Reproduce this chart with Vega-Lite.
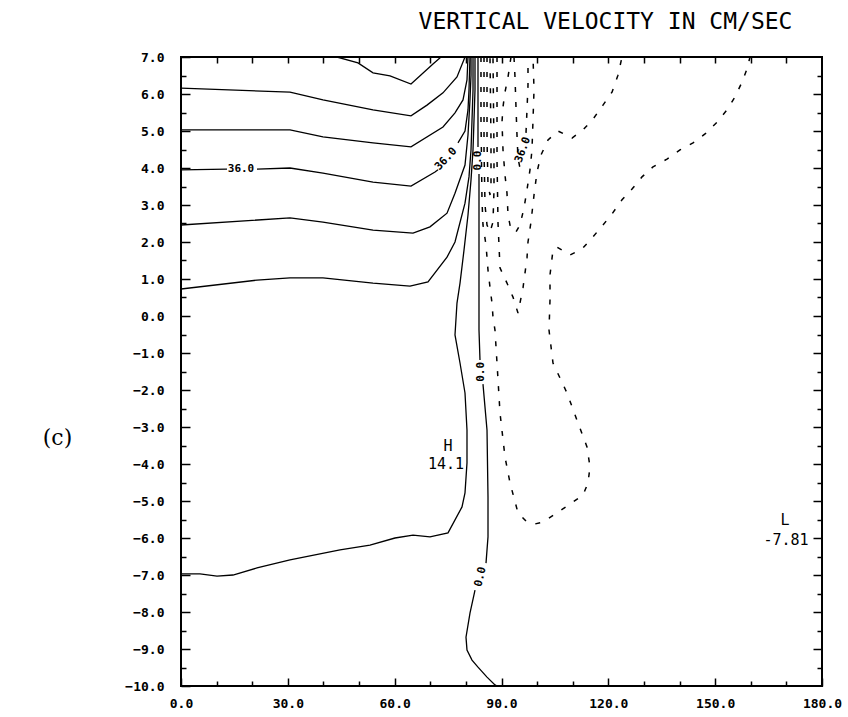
{
  "$schema": "https://vega.github.io/schema/vega-lite/v6.json",
  "width": 641,
  "height": 629,
  "autosize": {"type": "none"},
  "padding": {"left": 181, "top": 57, "right": 26, "bottom": 31},
  "background": "white",
  "title": {"text": "VERTICAL VELOCITY IN CM/SEC", "font": "DejaVu Sans Mono", "fontSize": 23, "fontWeight": "normal", "color": "black", "anchor": "middle", "dx": 104, "offset": 17},
  "config": {
    "view": {"stroke": "black", "strokeWidth": 2},
    "axis": {"domain": false, "grid": false, "tickColor": "black", "tickWidth": 1.5, "labelFont": "DejaVu Sans Mono", "labelFontSize": 13, "labelFontWeight": "bold", "labelColor": "black", "labelFlush": false}
  },
  "datasets": {
    "solid": [
      {"c":"S1","i":0,"x":43.81,"y":7.0},{"c":"S1","i":1,"x":49.70,"y":6.84},{"c":"S1","i":2,"x":53.92,"y":6.57},{"c":"S1","i":3,"x":58.69,"y":6.49},{"c":"S1","i":4,"x":64.59,"y":6.27},{"c":"S1","i":5,"x":70.76,"y":6.81},{"c":"S1","i":6,"x":73.01,"y":7.0},
      {"c":"S2","i":0,"x":0,"y":6.16},{"c":"S2","i":1,"x":30.61,"y":6.05},{"c":"S2","i":2,"x":39.87,"y":5.84},{"c":"S2","i":3,"x":53.92,"y":5.57},{"c":"S2","i":4,"x":64.59,"y":5.41},{"c":"S2","i":5,"x":69.08,"y":5.70},{"c":"S2","i":6,"x":73.57,"y":6.03},{"c":"S2","i":7,"x":77.50,"y":6.46},{"c":"S2","i":8,"x":79.75,"y":7.0},
      {"c":"S3","i":0,"x":0,"y":5.03},{"c":"S3","i":1,"x":30.61,"y":5.03},{"c":"S3","i":2,"x":39.87,"y":4.84},{"c":"S3","i":3,"x":53.92,"y":4.68},{"c":"S3","i":4,"x":64.59,"y":4.57},{"c":"S3","i":5,"x":73.57,"y":5.11},{"c":"S3","i":6,"x":76.94,"y":5.49},{"c":"S3","i":7,"x":79.19,"y":5.84},{"c":"S3","i":8,"x":80.31,"y":6.38},{"c":"S3","i":9,"x":80.59,"y":7.0},
      {"c":"S4a","i":0,"x":0,"y":3.95},{"c":"S4a","i":1,"x":12.92,"y":3.97},
      {"c":"S4b","i":0,"x":21.34,"y":3.97},{"c":"S4b","i":1,"x":30.61,"y":4.0},{"c":"S4b","i":2,"x":39.87,"y":3.86},{"c":"S4b","i":3,"x":53.92,"y":3.62},{"c":"S4b","i":4,"x":64.59,"y":3.51},{"c":"S4b","i":5,"x":71.33,"y":3.89},{"c":"S4b","i":6,"x":72.17,"y":3.95},
      {"c":"S4c","i":0,"x":77.78,"y":4.68},{"c":"S4c","i":1,"x":79.75,"y":5.0},{"c":"S4c","i":2,"x":80.59,"y":5.57},{"c":"S4c","i":3,"x":80.87,"y":6.11},{"c":"S4c","i":4,"x":81.15,"y":7.0},
      {"c":"S5","i":0,"x":0,"y":2.46},{"c":"S5","i":1,"x":30.61,"y":2.65},{"c":"S5","i":2,"x":39.87,"y":2.54},{"c":"S5","i":3,"x":53.92,"y":2.32},{"c":"S5","i":4,"x":65.15,"y":2.24},{"c":"S5","i":5,"x":69.92,"y":2.41},{"c":"S5","i":6,"x":74.70,"y":2.78},{"c":"S5","i":7,"x":76.94,"y":3.32},{"c":"S5","i":8,"x":79.75,"y":4.08},{"c":"S5","i":9,"x":80.59,"y":4.89},{"c":"S5","i":10,"x":81.15,"y":5.84},{"c":"S5","i":11,"x":81.44,"y":6.51},{"c":"S5","i":12,"x":81.44,"y":7.0},
      {"c":"S6","i":0,"x":0,"y":0.73},{"c":"S6","i":1,"x":21.34,"y":0.97},{"c":"S6","i":2,"x":30.61,"y":1.03},{"c":"S6","i":3,"x":39.87,"y":1.03},{"c":"S6","i":4,"x":53.92,"y":0.89},{"c":"S6","i":5,"x":64.31,"y":0.81},{"c":"S6","i":6,"x":69.36,"y":0.92},{"c":"S6","i":7,"x":74.70,"y":1.59},{"c":"S6","i":8,"x":76.94,"y":2.0},{"c":"S6","i":9,"x":79.75,"y":3.05},{"c":"S6","i":10,"x":80.87,"y":3.76},{"c":"S6","i":11,"x":81.44,"y":4.49},{"c":"S6","i":12,"x":81.72,"y":5.30},{"c":"S6","i":13,"x":82.0,"y":6.11},{"c":"S6","i":14,"x":82.0,"y":7.0},
      {"c":"S7","i":0,"x":0,"y":-6.97},{"c":"S7","i":1,"x":5.34,"y":-6.97},{"c":"S7","i":2,"x":10.11,"y":-7.03},{"c":"S7","i":3,"x":14.60,"y":-7.0},{"c":"S7","i":4,"x":21.34,"y":-6.81},{"c":"S7","i":5,"x":30.61,"y":-6.59},{"c":"S7","i":6,"x":44.65,"y":-6.32},{"c":"S7","i":7,"x":53.07,"y":-6.19},{"c":"S7","i":8,"x":60.09,"y":-6.0},{"c":"S7","i":9,"x":65.15,"y":-5.92},{"c":"S7","i":10,"x":69.92,"y":-5.97},{"c":"S7","i":11,"x":74.98,"y":-5.86},{"c":"S7","i":12,"x":78.91,"y":-5.16},{"c":"S7","i":13,"x":79.75,"y":-4.78},{"c":"S7","i":14,"x":80.31,"y":-3.97},{"c":"S7","i":15,"x":80.31,"y":-3.08},{"c":"S7","i":16,"x":79.75,"y":-2.08},{"c":"S7","i":17,"x":78.35,"y":-1.27},{"c":"S7","i":18,"x":76.94,"y":-0.51},{"c":"S7","i":19,"x":77.50,"y":0.35},{"c":"S7","i":20,"x":78.35,"y":0.89},{"c":"S7","i":21,"x":79.47,"y":1.78},{"c":"S7","i":22,"x":80.59,"y":2.73},{"c":"S7","i":23,"x":81.44,"y":3.68},{"c":"S7","i":24,"x":82.0,"y":4.49},{"c":"S7","i":25,"x":82.28,"y":5.30},{"c":"S7","i":26,"x":82.56,"y":6.11},{"c":"S7","i":27,"x":82.56,"y":7.0},
      {"c":"Z1","i":0,"x":83.40,"y":7.0},{"c":"Z1","i":1,"x":83.40,"y":5.84},{"c":"Z1","i":2,"x":83.40,"y":4.57},
      {"c":"Z2","i":0,"x":83.68,"y":3.84},{"c":"Z2","i":1,"x":83.68,"y":1.78},{"c":"Z2","i":2,"x":83.68,"y":-0.38},{"c":"Z2","i":3,"x":83.96,"y":-1.19},
      {"c":"Z3","i":0,"x":84.80,"y":-1.84},{"c":"Z3","i":1,"x":85.93,"y":-3.08},{"c":"Z3","i":2,"x":86.21,"y":-4.89},{"c":"Z3","i":3,"x":86.21,"y":-5.97},{"c":"Z3","i":4,"x":85.65,"y":-6.68},
      {"c":"Z4","i":0,"x":82.56,"y":-7.41},{"c":"Z4","i":1,"x":81.15,"y":-8.03},{"c":"Z4","i":2,"x":80.03,"y":-8.68},{"c":"Z4","i":3,"x":80.31,"y":-9.03},{"c":"Z4","i":4,"x":81.72,"y":-9.30},{"c":"Z4","i":5,"x":83.40,"y":-9.49},{"c":"Z4","i":6,"x":85.93,"y":-9.76},{"c":"Z4","i":7,"x":88.17,"y":-9.97},{"c":"Z4","i":8,"x":88.74,"y":-10.0}
    ],
    "dashed": [
      {"c":"N1","i":0,"x":84.24,"y":7.0},{"c":"N1","i":1,"x":84.24,"y":5.30},{"c":"N1","i":2,"x":84.52,"y":3.14},{"c":"N1","i":3,"x":84.80,"y":2.46},{"c":"N1","i":4,"x":85.65,"y":1.92},{"c":"N1","i":5,"x":86.21,"y":1.24},{"c":"N1","i":6,"x":86.77,"y":0.78},{"c":"N1","i":7,"x":87.33,"y":0.35},{"c":"N1","i":8,"x":87.61,"y":-0.03},{"c":"N1","i":9,"x":88.17,"y":-0.38},{"c":"N1","i":10,"x":88.74,"y":-1.27},{"c":"N1","i":11,"x":89.58,"y":-2.62},{"c":"N1","i":12,"x":90.98,"y":-3.81},{"c":"N1","i":13,"x":92.39,"y":-4.51},{"c":"N1","i":14,"x":94.63,"y":-5.32},{"c":"N1","i":15,"x":97.16,"y":-5.57},{"c":"N1","i":16,"x":99.41,"y":-5.62},{"c":"N1","i":17,"x":101.65,"y":-5.57},{"c":"N1","i":18,"x":105.58,"y":-5.32},{"c":"N1","i":19,"x":112.89,"y":-4.84},{"c":"N1","i":20,"x":114.29,"y":-4.51},{"c":"N1","i":21,"x":114.85,"y":-4.08},{"c":"N1","i":22,"x":114.01,"y":-3.54},{"c":"N1","i":23,"x":111.48,"y":-2.89},{"c":"N1","i":24,"x":108.39,"y":-2.08},{"c":"N1","i":25,"x":104.46,"y":-1.27},{"c":"N1","i":26,"x":103.34,"y":-0.38},{"c":"N1","i":27,"x":103.62,"y":0.43},{"c":"N1","i":28,"x":103.62,"y":1.11},{"c":"N1","i":29,"x":104.46,"y":1.78},{"c":"N1","i":30,"x":105.58,"y":1.86},{"c":"N1","i":31,"x":109.24,"y":1.65},{"c":"N1","i":32,"x":112.61,"y":1.81},{"c":"N1","i":33,"x":115.69,"y":2.14},{"c":"N1","i":34,"x":118.50,"y":2.46},{"c":"N1","i":35,"x":121.03,"y":2.76},{"c":"N1","i":36,"x":123.84,"y":3.14},{"c":"N1","i":37,"x":126.65,"y":3.43},{"c":"N1","i":38,"x":129.46,"y":3.76},{"c":"N1","i":39,"x":132.54,"y":4.03},{"c":"N1","i":40,"x":136.47,"y":4.24},{"c":"N1","i":41,"x":140.12,"y":4.49},{"c":"N1","i":42,"x":143.78,"y":4.68},{"c":"N1","i":43,"x":147.15,"y":4.92},{"c":"N1","i":44,"x":150.52,"y":5.24},{"c":"N1","i":45,"x":153.32,"y":5.57},{"c":"N1","i":46,"x":155.57,"y":5.92},{"c":"N1","i":47,"x":157.54,"y":6.32},{"c":"N1","i":48,"x":158.94,"y":6.68},{"c":"N1","i":49,"x":159.78,"y":7.0},
      {"c":"N2","i":0,"x":88.74,"y":7.0},{"c":"N2","i":1,"x":88.74,"y":4.22},{"c":"N2","i":2,"x":89.02,"y":2.51},{"c":"N2","i":3,"x":89.58,"y":1.30},{"c":"N2","i":4,"x":91.54,"y":0.89},{"c":"N2","i":5,"x":93.23,"y":0.51},{"c":"N2","i":6,"x":94.63,"y":0.08},{"c":"N2","i":7,"x":96.04,"y":0.76},{"c":"N2","i":8,"x":97.16,"y":1.57},{"c":"N2","i":9,"x":97.44,"y":2.0},{"c":"N2","i":10,"x":98.28,"y":2.54},{"c":"N2","i":11,"x":99.13,"y":3.27},{"c":"N2","i":12,"x":99.97,"y":3.89},{"c":"N2","i":13,"x":101.09,"y":4.35},{"c":"N2","i":14,"x":103.06,"y":4.76},{"c":"N2","i":15,"x":105.87,"y":5.0},{"c":"N2","i":16,"x":109.80,"y":4.81},{"c":"N2","i":17,"x":112.89,"y":5.03},{"c":"N2","i":18,"x":115.69,"y":5.32},{"c":"N2","i":19,"x":118.50,"y":5.70},{"c":"N2","i":20,"x":121.03,"y":6.05},{"c":"N2","i":21,"x":122.71,"y":6.51},{"c":"N2","i":22,"x":123.84,"y":7.0},
      {"c":"Ua","i":0,"x":85.09,"y":7.0},{"c":"Ua","i":1,"x":85.09,"y":4.49},{"c":"Ua","i":2,"x":85.37,"y":3.0},{"c":"Ua","i":3,"x":85.93,"y":2.46},{"c":"Ua","i":4,"x":86.77,"y":2.27},{"c":"Ua","i":5,"x":87.61,"y":2.54},{"c":"Ua","i":6,"x":87.89,"y":3.41},{"c":"Ua","i":7,"x":87.89,"y":4.49},{"c":"Ua","i":8,"x":87.61,"y":7.0},
      {"c":"Ub","i":0,"x":85.93,"y":7.0},{"c":"Ub","i":1,"x":85.93,"y":4.76},{"c":"Ub","i":2,"x":86.21,"y":3.54},{"c":"Ub","i":3,"x":86.77,"y":3.27},{"c":"Ub","i":4,"x":87.05,"y":3.54},{"c":"Ub","i":5,"x":87.05,"y":4.76},{"c":"Ub","i":6,"x":86.77,"y":7.0},
      {"c":"Uc","i":0,"x":92.67,"y":7.0},{"c":"Uc","i":1,"x":91.83,"y":6.46},{"c":"Uc","i":2,"x":90.98,"y":6.05},{"c":"Uc","i":3,"x":90.42,"y":5.65},{"c":"Uc","i":4,"x":90.14,"y":5.24},{"c":"Uc","i":5,"x":90.42,"y":4.49},{"c":"Uc","i":6,"x":90.98,"y":3.81},{"c":"Uc","i":7,"x":91.54,"y":3.32},{"c":"Uc","i":8,"x":91.83,"y":2.73},{"c":"Uc","i":9,"x":92.67,"y":2.32},{"c":"Uc","i":10,"x":94.07,"y":2.27},{"c":"Uc","i":11,"x":95.19,"y":2.46},{"c":"Uc","i":12,"x":96.32,"y":2.92},{"c":"Uc","i":13,"x":97.16,"y":3.41},{"c":"Uc","i":14,"x":98.0,"y":3.95},{"c":"Uc","i":15,"x":98.56,"y":4.49},{"c":"Uc","i":16,"x":98.85,"y":5.30},{"c":"Uc","i":17,"x":99.13,"y":6.11},{"c":"Uc","i":18,"x":98.85,"y":7.0},
      {"c":"Ud1","i":0,"x":93.51,"y":7.0},{"c":"Ud1","i":1,"x":93.79,"y":6.46},{"c":"Ud1","i":2,"x":94.07,"y":5.65},{"c":"Ud1","i":3,"x":94.35,"y":4.89},{"c":"Ud1","i":4,"x":94.63,"y":4.27},{"c":"Ud1","i":5,"x":95.19,"y":4.0},
      {"c":"Ud2","i":0,"x":96.88,"y":4.95},{"c":"Ud2","i":1,"x":97.16,"y":5.57},{"c":"Ud2","i":2,"x":97.44,"y":6.24},{"c":"Ud2","i":3,"x":97.44,"y":7.0}
    ],
    "labels": [
      {"x":16.85,"y":3.96,"text":"36.0","kind":"h"},
      {"x":74.42,"y":4.24,"text":"36.0","kind":"a47"},
      {"x":96.04,"y":4.49,"text":"36.0","kind":"a70"},
      {"x":83.4,"y":4.2,"text":"0.0","kind":"v"},
      {"x":84.38,"y":-1.51,"text":"0.0","kind":"v"},
      {"x":84.1,"y":-7.05,"text":"0.0","kind":"v2"},
      {"x":75.0,"y":-3.5,"text":"H","kind":"hl"},
      {"x":74.4,"y":-4.0,"text":"14.1","kind":"hl"},
      {"x":169.6,"y":-5.5,"text":"L","kind":"hl"},
      {"x":169.9,"y":-6.05,"text":"-7.81","kind":"hl"}
    ]
  },
  "resolve": {"axis": {"x": "independent", "y": "independent"}},
  "layer": [
    {
      "data": {"name": "solid"},
      "mark": {"type": "line", "color": "black", "strokeWidth": 1.3, "clip": true},
      "encoding": {
        "x": {"field": "x", "type": "quantitative", "scale": {"domain": [0, 180], "nice": false, "zero": false},
              "axis": {"orient": "bottom", "values": [0, 30, 60, 90, 120, 150, 180], "format": ".1f", "tickSize": -8, "labelPadding": 19, "title": null}},
        "y": {"field": "y", "type": "quantitative", "scale": {"domain": [-10, 7], "nice": false, "zero": false},
              "axis": {"orient": "left", "values": [-10, -9, -8, -7, -6, -5, -4, -3, -2, -1, 0, 1, 2, 3, 4, 5, 6, 7], "format": ".1f", "tickSize": -9, "labelPadding": 26,
                       "title": "(c)", "titleAngle": 0, "titleFont": "DejaVu Serif", "titleFontSize": 22, "titleFontWeight": "normal", "titleColor": "black", "titleX": -124, "titleY": 380, "titleAlign": "center", "titleBaseline": "middle"}},
        "detail": {"field": "c"},
        "order": {"field": "i"}
      }
    },
    {
      "data": {"name": "dashed"},
      "mark": {"type": "line", "color": "black", "strokeWidth": 1.5, "strokeDash": [5, 10], "clip": true},
      "encoding": {
        "x": {"field": "x", "type": "quantitative", "scale": {"domain": [0, 180], "nice": false, "zero": false},
              "axis": {"orient": "bottom", "values": [10, 20, 40, 50, 70, 80, 100, 110, 130, 140, 160, 170], "labels": false, "tickSize": -5, "title": null}},
        "y": {"field": "y", "type": "quantitative", "scale": {"domain": [-10, 7], "nice": false, "zero": false},
              "axis": {"orient": "left", "values": [-9.5, -8.5, -7.5, -6.5, -5.5, -4.5, -3.5, -2.5, -1.5, -0.5, 0.5, 1.5, 2.5, 3.5, 4.5, 5.5, 6.5], "labels": false, "tickSize": -5, "title": null}},
        "detail": {"field": "c"},
        "order": {"field": "i"}
      }
    },
    {
      "data": {"name": "labels"},
      "transform": [{"filter": "datum.kind === 'h'"}],
      "mark": {"type": "text", "font": "DejaVu Sans Mono", "fontSize": 11, "fontWeight": "bold", "color": "black", "align": "center", "baseline": "middle"},
      "encoding": {
        "x": {"field": "x", "type": "quantitative", "scale": {"domain": [0, 180], "nice": false, "zero": false},
              "axis": {"orient": "top", "values": [10, 20, 30, 40, 50, 60, 70, 80, 90, 100, 110, 120, 130, 140, 150, 160, 170], "labels": false, "tickSize": -6, "title": null}},
        "y": {"field": "y", "type": "quantitative", "scale": {"domain": [-10, 7], "nice": false, "zero": false},
              "axis": {"orient": "right", "values": [-9, -8, -7, -6, -5, -4, -3, -2, -1, 0, 1, 2, 3, 4, 5, 6], "labels": false, "tickSize": -9, "title": null}},
        "text": {"field": "text"}
      }
    },
    {
      "data": {"name": "labels"},
      "transform": [{"filter": "datum.kind === 'a47'"}],
      "mark": {"type": "text", "font": "DejaVu Sans Mono", "fontSize": 11, "fontWeight": "bold", "color": "black", "align": "center", "baseline": "middle", "angle": 313},
      "encoding": {
        "x": {"field": "x", "type": "quantitative", "scale": {"domain": [0, 180], "nice": false, "zero": false}, "axis": null},
        "y": {"field": "y", "type": "quantitative", "scale": {"domain": [-10, 7], "nice": false, "zero": false},
              "axis": {"orient": "right", "values": [-9.5, -8.5, -7.5, -6.5, -5.5, -4.5, -3.5, -2.5, -1.5, -0.5, 0.5, 1.5, 2.5, 3.5, 4.5, 5.5, 6.5], "labels": false, "tickSize": -5, "title": null}},
        "text": {"field": "text"}
      }
    },
    {
      "data": {"name": "labels"},
      "transform": [{"filter": "datum.kind === 'a70'"}],
      "mark": {"type": "text", "font": "DejaVu Sans Mono", "fontSize": 11, "fontWeight": "bold", "color": "black", "align": "center", "baseline": "middle", "angle": 290},
      "encoding": {
        "x": {"field": "x", "type": "quantitative", "scale": {"domain": [0, 180], "nice": false, "zero": false}, "axis": null},
        "y": {"field": "y", "type": "quantitative", "scale": {"domain": [-10, 7], "nice": false, "zero": false}, "axis": null},
        "text": {"field": "text"}
      }
    },
    {
      "data": {"name": "labels"},
      "transform": [{"filter": "datum.kind === 'v'"}],
      "mark": {"type": "text", "font": "DejaVu Sans Mono", "fontSize": 11, "fontWeight": "bold", "color": "black", "align": "center", "baseline": "middle", "angle": 270},
      "encoding": {
        "x": {"field": "x", "type": "quantitative", "scale": {"domain": [0, 180], "nice": false, "zero": false}, "axis": null},
        "y": {"field": "y", "type": "quantitative", "scale": {"domain": [-10, 7], "nice": false, "zero": false}, "axis": null},
        "text": {"field": "text"}
      }
    },
    {
      "data": {"name": "labels"},
      "transform": [{"filter": "datum.kind === 'v2'"}],
      "mark": {"type": "text", "font": "DejaVu Sans Mono", "fontSize": 11, "fontWeight": "bold", "color": "black", "align": "center", "baseline": "middle", "angle": 283},
      "encoding": {
        "x": {"field": "x", "type": "quantitative", "scale": {"domain": [0, 180], "nice": false, "zero": false}, "axis": null},
        "y": {"field": "y", "type": "quantitative", "scale": {"domain": [-10, 7], "nice": false, "zero": false}, "axis": null},
        "text": {"field": "text"}
      }
    },
    {
      "data": {"name": "labels"},
      "transform": [{"filter": "datum.kind === 'hl'"}],
      "mark": {"type": "text", "font": "DejaVu Sans Mono", "fontSize": 15, "fontWeight": "normal", "color": "black", "align": "center", "baseline": "middle"},
      "encoding": {
        "x": {"field": "x", "type": "quantitative", "scale": {"domain": [0, 180], "nice": false, "zero": false}, "axis": null},
        "y": {"field": "y", "type": "quantitative", "scale": {"domain": [-10, 7], "nice": false, "zero": false}, "axis": null},
        "text": {"field": "text"}
      }
    }
  ]
}
